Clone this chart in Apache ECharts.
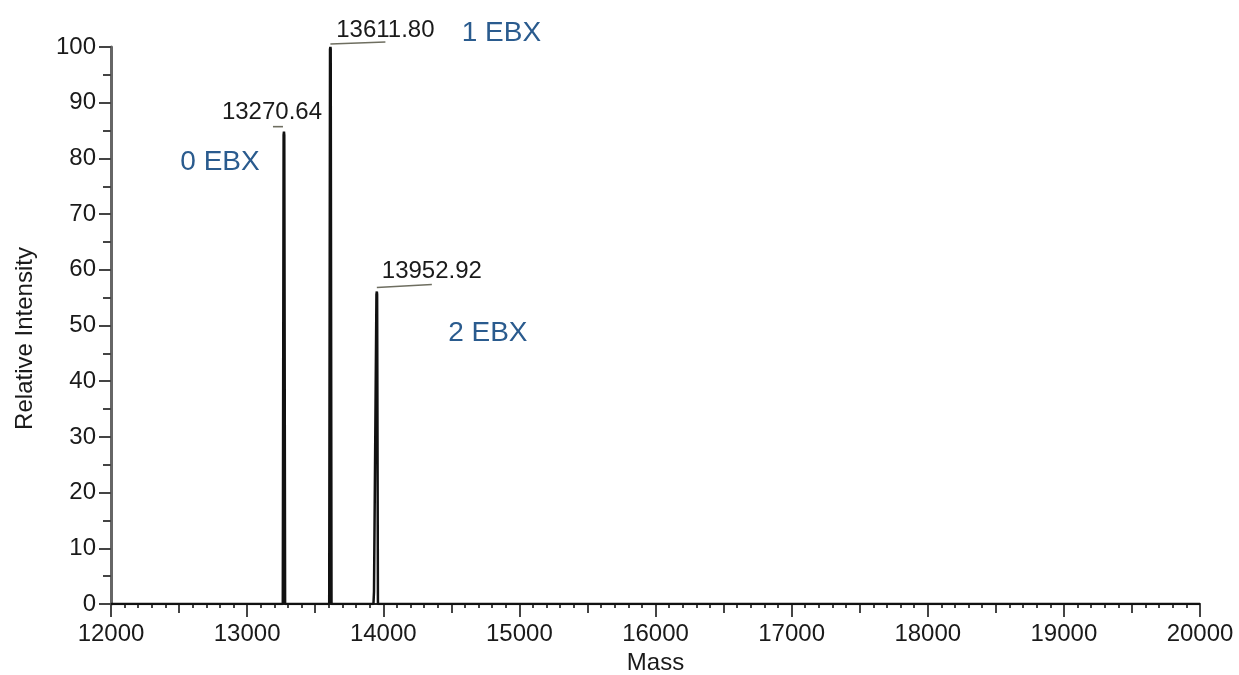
<!DOCTYPE html>
<html>
<head>
<meta charset="utf-8">
<title>Deconvoluted mass spectrum</title>
<script src="https://cdn.jsdelivr.net/npm/echarts@6/dist/echarts.min.js"></script>
<style>
  html, body { margin: 0; padding: 0; background: #ffffff; }
  #chart { width: 1239px; height: 675px; }
</style>
</head>
<body>
<div id="chart"></div>
<script>
// Deconvoluted spectrum profile (mass in Da, relative intensity in %)
const spectrumMass = [12000, 13262, 13268, 13270.64, 13273, 13279,
                      13603, 13609, 13611.8, 13614, 13620,
                      13928, 13932, 13946, 13950, 13952.92, 13955, 13961, 20000];
const spectrumIntensity = [0, 0, 84.2, 84.8, 84.2, 0,
                           0, 99.6, 100, 99.6, 0,
                           0, 2.2, 2.3, 55.6, 56.1, 55.6, 0, 0];

// Annotated peak apexes
const peakMass = [13270.64, 13611.80, 13952.92];
const peakIntensity = [84.8, 100, 56.1];
const peakLabels = ['13270.64', '13611.80', '13952.92'];
const speciesLabels = ['0 EBX', '1 EBX', '2 EBX'];

// Axis ranges and ticks
const xRange = [12000, 20000];
const yRange = [0, 100];
const xStep = 1000;
const yStep = 10;

// Pixel offsets of each annotation relative to its apex
const annotationLayout = [
  { line: [-1, -5, -11, -5], text: [-12, -19], species: [-64, 31] },
  { line: [0, -3, 55, -5],  text: [55, -17],  species: [171, -14] },
  { line: [0, -4, 55, -7],  text: [55, -20],  species: [111, 42] }
];

const FONT = 'Liberation Sans, Arial, sans-serif';

const spectrumData = spectrumMass.map((m, i) => [m, spectrumIntensity[i]]);
const peakData = peakMass.map((m, i) => [m, peakIntensity[i]]);

const chart = echarts.init(document.getElementById('chart'), null, { renderer: 'canvas' });

chart.setOption({
  animation: false,
  backgroundColor: '#ffffff',
  grid: { left: 111, right: 39, top: 47, bottom: 71, containLabel: false, outerBoundsMode: 'none' },
  xAxis: [
    {
      type: 'value',
      position: 'bottom',
      min: xRange[0], max: xRange[1], interval: xStep,
      name: 'Mass',
      nameLocation: 'middle',
      nameGap: 46,
      nameTextStyle: { fontFamily: FONT, fontSize: 24, color: '#1a1a1a' },
      axisLine: { show: true, onZero: false, lineStyle: { color: '#222', width: 2 } },
      axisTick: { show: true, inside: false, length: 13, lineStyle: { color: '#444', width: 2 } },
      minorTick: { show: true, splitNumber: 10, length: 4, lineStyle: { color: '#444', width: 2 } },
      axisLabel: {
        fontFamily: FONT, fontSize: 24, color: '#1a1a1a', margin: 18,
        showMinLabel: true, showMaxLabel: true,
        formatter: (v) => String(v)
      },
      splitLine: { show: false }
    },
    {
      // half-step ticks at every 500 Da
      type: 'value',
      position: 'bottom',
      min: xRange[0], max: xRange[1], interval: xStep / 2,
      axisLine: { show: false, onZero: false },
      axisTick: { show: true, inside: false, length: 9, lineStyle: { color: '#444', width: 2 } },
      axisLabel: { show: false },
      splitLine: { show: false }
    }
  ],
  yAxis: {
    type: 'value',
    min: yRange[0], max: yRange[1], interval: yStep,
    name: 'Relative Intensity',
    nameLocation: 'middle',
    nameRotate: 90,
    nameGap: 74,
    nameTextStyle: { fontFamily: FONT, fontSize: 24, color: '#1a1a1a', padding: [0, 26, 0, 0] },
    axisLine: { show: true, onZero: false, lineStyle: { color: '#666', width: 3 } },
    axisTick: { show: true, inside: false, length: 12, lineStyle: { color: '#444', width: 2 } },
    minorTick: { show: true, splitNumber: 2, length: 8, lineStyle: { color: '#444', width: 2 } },
    axisLabel: { fontFamily: FONT, fontSize: 24, color: '#1a1a1a', margin: 15, formatter: (v) => String(v) },
    splitLine: { show: false }
  },
  series: [
    {
      name: 'spectrum',
      type: 'line',
      xAxisIndex: 0,
      data: spectrumData,
      symbol: 'none',
      lineStyle: { color: '#111', width: 2.5 },
      z: 3
    },
    {
      name: 'annotations',
      type: 'custom',
      xAxisIndex: 0,
      data: peakData,
      encode: { x: 0, y: 1 },
      clip: false,
      z: 4,
      renderItem: function (params, api) {
        const i = params.dataIndex;
        const p = api.coord([api.value(0), api.value(1)]);
        const lay = annotationLayout[i];
        return {
          type: 'group',
          children: [
            {
              type: 'line',
              shape: {
                x1: p[0] + lay.line[0], y1: p[1] + lay.line[1],
                x2: p[0] + lay.line[2], y2: p[1] + lay.line[3]
              },
              style: { stroke: '#6e6e60', lineWidth: 1.6 }
            },
            {
              type: 'text',
              x: p[0] + lay.text[0],
              y: p[1] + lay.text[1],
              style: {
                text: peakLabels[i],
                fontFamily: FONT, fontSize: 24, fill: '#1a1a1a',
                align: 'center', verticalAlign: 'middle'
              }
            },
            {
              type: 'text',
              x: p[0] + lay.species[0],
              y: p[1] + lay.species[1],
              style: {
                text: speciesLabels[i],
                fontFamily: FONT, fontSize: 28, fill: '#2a5b8e',
                align: 'center', verticalAlign: 'middle'
              }
            }
          ]
        };
      }
    }
  ]
});
</script>
</body>
</html>
